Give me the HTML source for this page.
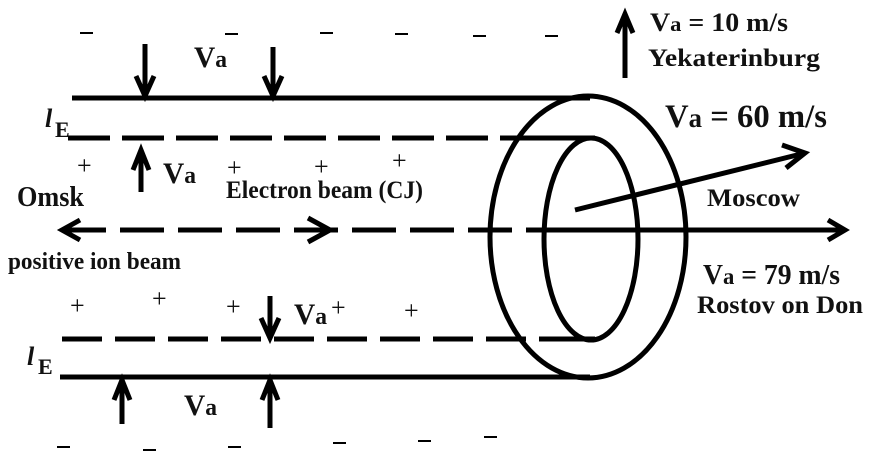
<!DOCTYPE html>
<html><head><style>
body{margin:0;background:#fff}
svg{display:block}
text{font-family:"Liberation Serif",serif;font-weight:bold;fill:#111}
</style></head><body>
<svg width="870" height="458" viewBox="0 0 870 458" xmlns="http://www.w3.org/2000/svg">
<g stroke="#000" stroke-width="5" fill="none" stroke-linecap="butt">
<line x1="72" y1="98" x2="590" y2="98"/>
<line x1="68" y1="138" x2="540" y2="138" stroke-dasharray="42,12"/>
<line x1="540" y1="138" x2="595" y2="138"/>
<line x1="62" y1="339" x2="540" y2="339" stroke-dasharray="40,13"/>
<line x1="540" y1="339" x2="595" y2="339"/>
<line x1="60" y1="377" x2="590" y2="377"/>
<line x1="62" y1="230" x2="545" y2="230" stroke-dasharray="44,14"/>
<line x1="545" y1="230" x2="845" y2="230"/>
<polyline points="80,220 62,230 80,240"/>
<polyline points="308,218 330,230 308,242"/>
<polyline points="828,220 845,230 828,240"/>
<ellipse cx="588" cy="237" rx="98" ry="141"/>
<ellipse cx="591" cy="239" rx="47" ry="101"/>
<line x1="575" y1="210" x2="805" y2="153"/>
<polyline points="782,145 805,153 786,168"/>
<line x1="145" y1="44" x2="145" y2="95"/><polyline points="136,76 145,96 154,76"/>
<line x1="273" y1="47" x2="273" y2="95"/><polyline points="264,76 273,96 282,76"/>
<line x1="141" y1="192" x2="141" y2="150"/><polyline points="133,170 141,150 149,170"/>
<line x1="270" y1="296" x2="270" y2="337"/><polyline points="261,318 270,338 279,318"/>
<line x1="122" y1="424" x2="122" y2="380"/><polyline points="114,400 122,380 130,400"/>
<line x1="270" y1="428" x2="270" y2="380"/><polyline points="262,400 270,380 278,400"/>
<line x1="625" y1="78" x2="625" y2="14"/><polyline points="617,33 625,14 633,33"/>
</g>
<g stroke="#000" stroke-width="2">
<line x1="80" y1="33" x2="93" y2="33"/><line x1="225" y1="34" x2="238" y2="34"/>
<line x1="320" y1="33" x2="333" y2="33"/><line x1="395" y1="34" x2="408" y2="34"/>
<line x1="473" y1="36" x2="486" y2="36"/><line x1="545" y1="36" x2="558" y2="36"/>
<line x1="57" y1="447" x2="70" y2="447"/><line x1="143" y1="450" x2="156" y2="450"/>
<line x1="228" y1="447" x2="241" y2="447"/><line x1="333" y1="443" x2="346" y2="443"/>
<line x1="418" y1="441" x2="431" y2="441"/><line x1="484" y1="437" x2="497" y2="437"/>
</g>
<g font-size="26">
<text x="77" y="174" style="font-weight:normal">+</text>
<text x="227" y="176" style="font-weight:normal">+</text>
<text x="314" y="175" style="font-weight:normal">+</text>
<text x="392" y="169" style="font-weight:normal">+</text>
<text x="70" y="314" style="font-weight:normal">+</text>
<text x="152" y="307" style="font-weight:normal">+</text>
<text x="226" y="315" style="font-weight:normal">+</text>
<text x="331" y="316" style="font-weight:normal">+</text>
<text x="404" y="319" style="font-weight:normal">+</text>
</g>
<text x="194" y="67" font-size="30" textLength="33" lengthAdjust="spacingAndGlyphs">V<tspan font-size="24">a</tspan></text>
<text x="163" y="183" font-size="30" textLength="33" lengthAdjust="spacingAndGlyphs">V<tspan font-size="24">a</tspan></text>
<text x="294" y="324" font-size="30" textLength="33" lengthAdjust="spacingAndGlyphs">V<tspan font-size="24">a</tspan></text>
<text x="184" y="415" font-size="30" textLength="33" lengthAdjust="spacingAndGlyphs">V<tspan font-size="24">a</tspan></text>
<text x="45" y="127" font-size="26" font-style="italic" font-weight="normal">l</text><text x="55" y="137" font-size="22">E</text>
<text x="27" y="365" font-size="26" font-style="italic" font-weight="normal">l</text><text x="38" y="374" font-size="22">E</text>
<text x="17" y="206" font-size="28" textLength="67" lengthAdjust="spacingAndGlyphs">Omsk</text>
<text x="226" y="198" font-size="25" textLength="197" lengthAdjust="spacingAndGlyphs">Electron beam (CJ)</text>
<text x="8" y="269" font-size="24" textLength="173" lengthAdjust="spacingAndGlyphs">positive ion beam</text>
<text x="650" y="31" font-size="26" textLength="138" lengthAdjust="spacingAndGlyphs">V<tspan font-size="21">a</tspan> = 10 m/s</text>
<text x="648" y="66" font-size="25" textLength="172" lengthAdjust="spacingAndGlyphs">Yekaterinburg</text>
<text x="665" y="127" font-size="33" textLength="162" lengthAdjust="spacingAndGlyphs">V<tspan font-size="27">a</tspan> = 60 m/s</text>
<text x="707" y="206" font-size="25" textLength="93" lengthAdjust="spacingAndGlyphs">Moscow</text>
<text x="703" y="284" font-size="28" textLength="137" lengthAdjust="spacingAndGlyphs">V<tspan font-size="23">a</tspan> = 79 m/s</text>
<text x="697" y="313" font-size="25" textLength="166" lengthAdjust="spacingAndGlyphs">Rostov on Don</text>
</svg>
</body></html>
